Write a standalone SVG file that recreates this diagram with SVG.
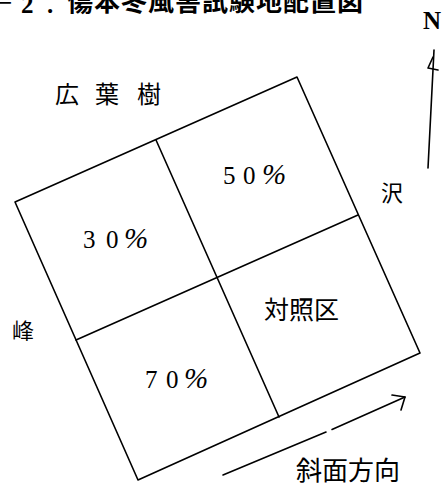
<svg xmlns="http://www.w3.org/2000/svg" width="445" height="487" viewBox="0 0 445 487">
<style>
.ln{fill:none;stroke:#000;stroke-width:1.6;stroke-linecap:round;stroke-linejoin:round}
.jp{font-family:"Noto Sans CJK JP","Noto Sans",sans-serif;fill:#000}
.num{font-family:"Liberation Serif","DejaVu Serif",serif;font-size:25px;fill:#000}
.pc{font-size:29px;font-style:italic}
</style>
<rect width="445" height="487" fill="#fff"/>
<g id="title">
<text x="-2" y="11" class="num" font-size="26" font-weight="bold">−</text>
<text x="21" y="13" class="num" font-size="20" font-weight="bold">2</text>
<text x="47" y="13" class="num" font-size="18" font-weight="bold">.</text>
<text x="67" y="11" class="jp" font-size="26" font-weight="bold" letter-spacing="1">傷本冬風害試験地配置図</text>
</g>
<g id="north">
<text x="423" y="29" class="num" font-size="21" font-weight="bold">N</text>
<path class="ln" d="M434,50 L428,168"/>
<path class="ln" d="M433,57 L428,68 L438,70"/>
</g>
<g id="plot-frame">
<polygon class="ln" points="15,202 297,77 420,353 138,480"/>
<path class="ln" d="M156,140 L279,417"/>
<path class="ln" d="M76,340 L358,215"/>
</g>
<g id="plot-30">
<text class="num" y="248"><tspan x="83">3</tspan><tspan x="106">0</tspan><tspan x="124" class="pc">%</tspan></text>
</g>
<g id="plot-50">
<text class="num" y="184"><tspan x="223">5</tspan><tspan x="243">0</tspan><tspan x="262" class="pc">%</tspan></text>
</g>
<g id="plot-70">
<text class="num" y="388"><tspan x="145">7</tspan><tspan x="166">0</tspan><tspan x="184" class="pc">%</tspan></text>
</g>
<g id="plot-control">
<text x="264" y="319" class="jp" font-size="25">対照区</text>
</g>
<g id="labels">
<text x="55" y="103" class="jp" font-size="24">広</text>
<text x="95" y="103" class="jp" font-size="24">葉</text>
<text x="137" y="103" class="jp" font-size="24">樹</text>
<text x="381" y="201" class="jp" font-size="22">沢</text>
<text x="12" y="339" class="jp" font-size="22">峰</text>
<text x="296" y="480" class="jp" font-size="26">斜面方向</text>
</g>
<g id="connectors">
<path class="ln" d="M223,475 L326,432 M332,429.5 L405,397"/>
<path class="ln" d="M392,395 L405,397 L401,410"/>
</g>
</svg>
